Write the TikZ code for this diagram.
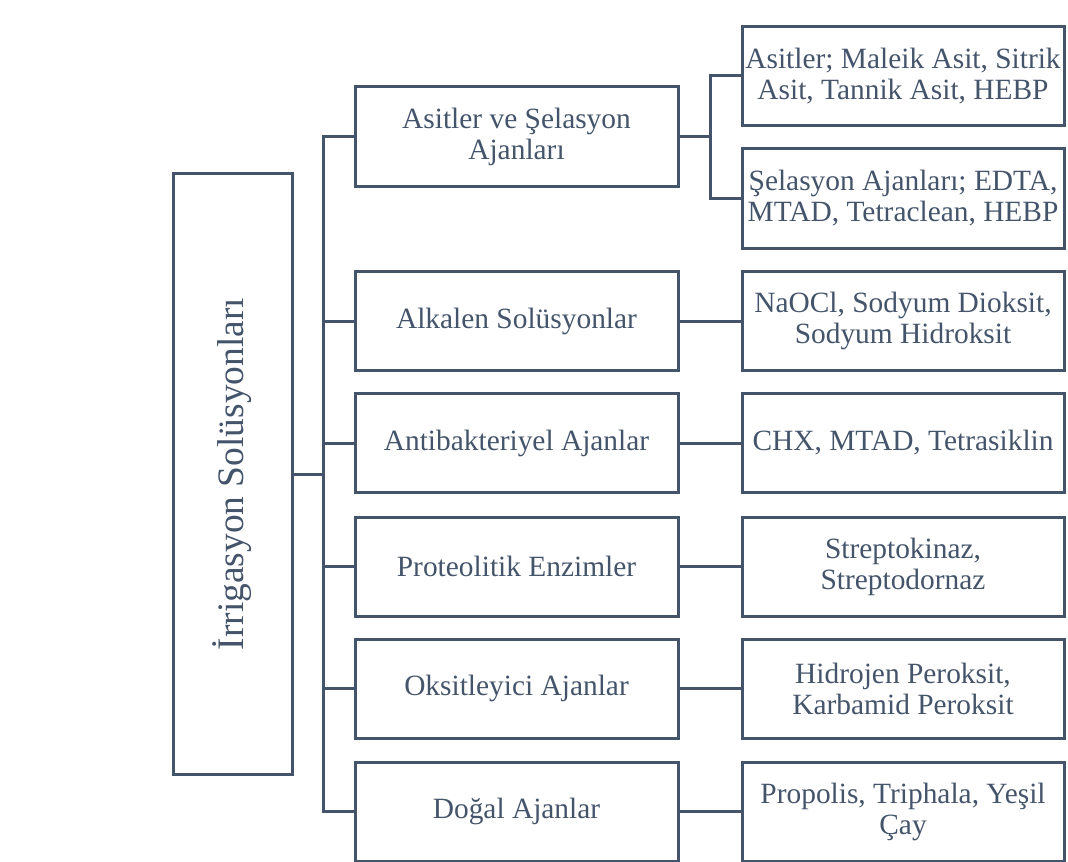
\documentclass[tikz,border=0pt]{standalone}
\usepackage{fontspec}
\setmainfont{Liberation Serif}
\usetikzlibrary{positioning}
\definecolor{koyu}{HTML}{44546A}
\tikzset{
	kutu/.style={draw=koyu, line width=1.5pt, text=koyu, align=center, inner sep=1pt,
		font=\fontsize{14.7}{15.5}\selectfont}, % Butun kutularin ortak hali
	orta/.style={kutu, minimum width=161.5pt, minimum height=49.5pt}, % Ortadaki gruplar
	yaprak/.style={kutu, minimum width=161pt, minimum height=49.5pt}, % Sagdaki ornekler
	hat/.style={draw=koyu, line width=1.5pt} % Baglanti cizgileri
}

\begin{document}
\begin{tikzpicture}[x=0.5pt, y=-0.5pt]
	\useasboundingbox (0,0) rectangle (1068,861);
	\node[kutu, rotate=90, minimum width=300pt, minimum height=59.5pt,
		font=\fontsize{18.7}{20}\selectfont] (ir) at (232.5,474) {İrrigasyon Solüsyonları};
	\node[orta] (a1) at (516.5,136.5) {Asitler ve Şelasyon\\Ajanları};
	\node[orta] (a2) at (516.5,321) {Alkalen Solüsyonlar};
	\node[orta] (a3) at (516.5,443) {Antibakteriyel Ajanlar};
	\node[orta] (a4) at (516.5,566.5) {Proteolitik Enzimler};
	\node[orta] (a5) at (516.5,688.5) {Oksitleyici Ajanlar};
	\node[orta] (a6) at (516.5,811.5) {Doğal Ajanlar};
	\node[yaprak] (b1) at (903,76) {Asitler; Maleik Asit, Sitrik\\Asit, Tannik Asit, HEBP};
	\node[yaprak] (b2) at (903,198.5) {Şelasyon Ajanları; EDTA,\\MTAD, Tetraclean, HEBP};
	\node[yaprak] (b3) at (903,321) {NaOCl, Sodyum Dioksit,\\Sodyum Hidroksit};
	\node[yaprak] (b4) at (903,443) {CHX, MTAD, Tetrasiklin};
	\node[yaprak] (b5) at (903,566.5) {Streptokinaz,\\Streptodornaz};
	\node[yaprak] (b6) at (903,688.5) {Hidrojen Peroksit,\\Karbamid Peroksit};
	\node[yaprak] (b7) at (903,811.5) {Propolis, Triphala, Yeşil\\Çay};
	\coordinate (t) at (323,474);
	\coordinate (s) at (710,136.5);
	\draw[hat] (ir) -- (t);
	\foreach \i in {1,...,6}
		\draw[hat] (t) |- (a\i);
	\draw[hat] (a1) -- (s);
	\draw[hat] (s) |- (b1);
	\draw[hat] (s) |- (b2);
	\foreach \i in {2,...,6}{
		\pgfmathtruncatemacro{\j}{\i+1}
		\draw[hat] (a\i) -- (b\j);
	}
\end{tikzpicture}
\end{document}
